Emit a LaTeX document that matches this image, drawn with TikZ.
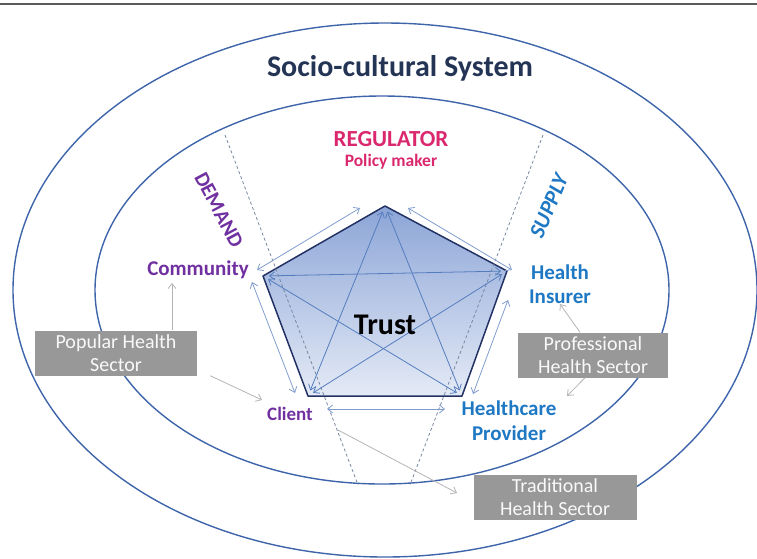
\documentclass[tikz,border=0pt]{standalone}
\usepackage{fontspec}
\setmainfont{Carlito}
\usetikzlibrary{arrows.meta}

\definecolor{titlenavy}{RGB}{36,52,84}
\definecolor{ellblue}{RGB}{62,100,170}
\definecolor{regpink}{RGB}{218,40,110}
\definecolor{dempurple}{RGB}{112,48,160}
\definecolor{supblue}{RGB}{30,120,195}
\definecolor{pentop}{RGB}{140,165,215}
\definecolor{penbot}{RGB}{228,234,246}
\definecolor{penedge}{RGB}{35,50,100}
\definecolor{arrblue}{RGB}{85,125,190}
\definecolor{dashgray}{RGB}{120,135,160}
\definecolor{boxgray}{RGB}{152,152,152}
\definecolor{linkgray}{RGB}{180,180,180}

\tikzset{
	dbl/.style={{Straight Barb[length=5pt,width=8pt]}-{Straight Barb[length=5pt,width=8pt]}, draw=arrblue, line width=0.8pt},
	grayarr/.style={-{Straight Barb[length=5pt,width=8pt]}, draw=linkgray, line width=0.8pt},
	sectorline/.style={draw=dashgray, line width=0.8pt, dash pattern=on 3pt off 2.5pt},
	sectorbox/.style={fill=boxgray, text=white!95!gray, font=\fontsize{20}{23}\selectfont, align=center, minimum width=#1, minimum height=45pt, inner sep=0pt}
}

\begin{document}
\begin{tikzpicture}[x=1pt, y=-1pt, every node/.style={inner sep=0pt}]
	\useasboundingbox (0,0) rectangle (757,558);
	\draw[line width=2pt, black!65] (0,4) -- (757,4);

	% the two systems
	\draw[ellblue, line width=1.4pt] (385,290) ellipse [x radius=372pt, y radius=267pt];
	\draw[ellblue, line width=1.4pt] (382,290) ellipse [x radius=287pt, y radius=194pt];

	% pentagon corners
	\coordinate (pT)  at (385,206);
	\coordinate (pL)  at (263,276);
	\coordinate (pR)  at (507,271);
	\coordinate (pBL) at (308,396);
	\coordinate (pBR) at (462,396);
	\shade[top color=pentop, bottom color=penbot] (pT) -- (pR) -- (pBR) -- (pBL) -- (pL) -- cycle;
	\draw[penedge, line width=1.5pt, line join=round] (pT) -- (pR) -- (pBR) -- (pBL) -- (pL) -- cycle;

	% demand / supply borders
	\coordinate (d1) at (225,135);
	\coordinate (d2) at (358,485);
	\coordinate (s1) at (543,135);
	\coordinate (s2) at (410,485);
	\draw[sectorline] (d1) -- (d2);
	\draw[sectorline] (s1) -- (s2);

	% star inside
	\foreach \from/\to in {
		pL/pR, pT/pBL, pT/pBR,
		pL/pBR, pR/pBL}
	\draw[dbl, shorten <=6pt, shorten >=6pt] (\from) -- (\to);

	% arrows round the edges
	\coordinate (e1) at (257,270); \coordinate (e2) at (360,208);
	\coordinate (e3) at (408,208); \coordinate (e4) at (512,270);
	\coordinate (e5) at (252,282); \coordinate (e6) at (295,393);
	\coordinate (e7) at (508,300); \coordinate (e8) at (473,394);
	\coordinate (e9) at (327,409); \coordinate (e10) at (445,409);
	\foreach \from/\to in {e1/e2, e3/e4, e5/e6, e7/e8, e9/e10}
	\draw[dbl, draw=arrblue!75] (\from) -- (\to);

	\node[font=\bfseries\fontsize{30}{32}\selectfont] (trust) at (385,325) {Trust};

	% labels
	\node[font=\bfseries\fontsize{30}{32}\selectfont, text=titlenavy] (sys) at (400,68) {Socio-cultural System};
	\node[font=\bfseries\fontsize{23}{25}\selectfont, text=regpink] (reg) at (391,139) {REGULATOR};
	\node[font=\bfseries\fontsize{17.5}{20}\selectfont, text=regpink] (pol) at (391,162) {Policy maker};
	\node[font=\bfseries\fontsize{21}{23}\selectfont, text=dempurple, rotate=-62] (dem) at (219,210) {DEMAND};
	\node[font=\bfseries\itshape\fontsize{22}{24}\selectfont, text=supblue, rotate=67] (sup) at (549,206) {SUPPLY};
	\node[font=\bfseries\fontsize{21}{23}\selectfont, text=dempurple] (comm) at (198,270) {Community};
	\node[font=\bfseries\fontsize{19}{21}\selectfont, text=dempurple] (client) at (290,414) {Client};
	\node[font=\bfseries\fontsize{21}{24}\selectfont, text=supblue, align=center] (ins) at (560,284) {Health\\Insurer};
	\node[font=\bfseries\fontsize{21}{25}\selectfont, text=supblue, align=center] (prov) at (509,421) {Healthcare\\Provider};

	% health sectors
	\node[sectorbox=162pt] (pop) at (116,353) {Popular Health\\Sector};
	\node[sectorbox=150pt] (prof) at (593,355) {Professional\\Health Sector};
	\node[sectorbox=163pt] (trad) at (555,497) {Traditional\\Health Sector};

	\coordinate (g1) at (172,283);
	\coordinate (g2) at (262,400);
	\coordinate (g3) at (560,304);
	\coordinate (g4) at (567,396);
	\coordinate (g5) at (338,430);
	\coordinate (g6) at (457,493);
	\draw[grayarr] ([xshift=56pt]pop.north) -- (g1);
	\draw[grayarr] ([xshift=13pt]pop.south east) -- (g2);
	\draw[grayarr] ([xshift=-13pt]prof.north) -- (g3);
	\draw[grayarr] ([xshift=-8pt]prof.south) -- (g4);
	\draw[grayarr] (g5) -- (g6);
\end{tikzpicture}
\end{document}
